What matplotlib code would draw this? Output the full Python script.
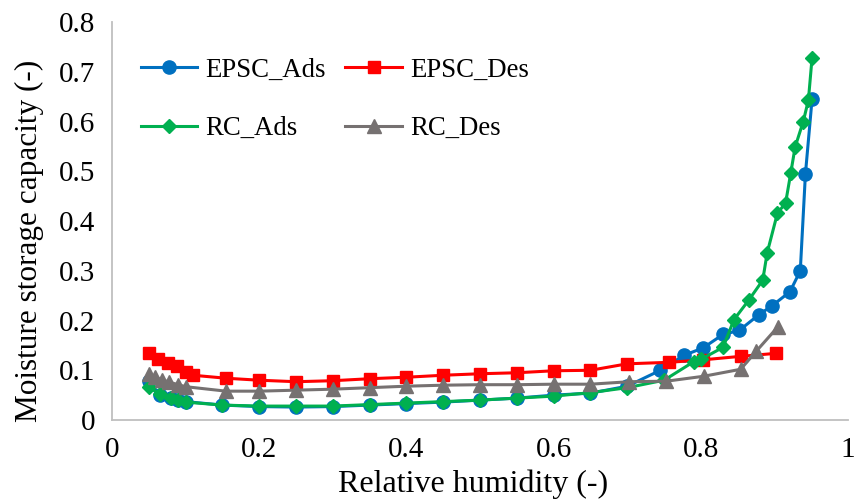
import matplotlib
matplotlib.use("Agg")
import matplotlib.pyplot as plt

# relative humidity (x) and moisture storage capacity (y) per series
epsc_ads_rh = [0.05, 0.065, 0.08, 0.09, 0.10, 0.15, 0.20, 0.25, 0.30, 0.35, 0.40, 0.45,
               0.50, 0.55, 0.60, 0.65, 0.70, 0.745, 0.777, 0.803, 0.83, 0.852, 0.879,
               0.897, 0.921, 0.935, 0.942, 0.951]
epsc_ads = [0.078, 0.050, 0.044, 0.040, 0.037, 0.030, 0.027, 0.026, 0.027, 0.030, 0.033,
            0.036, 0.040, 0.044, 0.050, 0.054, 0.068, 0.100, 0.130, 0.145, 0.172, 0.180,
            0.212, 0.230, 0.258, 0.300, 0.495, 0.645]

epsc_des_rh = [0.05, 0.062, 0.076, 0.089, 0.10, 0.11, 0.155, 0.20, 0.25, 0.30, 0.35, 0.40,
               0.45, 0.50, 0.55, 0.60, 0.65, 0.70, 0.757, 0.803, 0.854, 0.902]
epsc_des = [0.134, 0.122, 0.114, 0.108, 0.097, 0.090, 0.084, 0.080, 0.077, 0.079, 0.083,
            0.086, 0.090, 0.093, 0.095, 0.099, 0.100, 0.113, 0.116, 0.121, 0.128, 0.134]

rc_ads_rh = [0.05, 0.065, 0.08, 0.09, 0.10, 0.15, 0.20, 0.25, 0.30, 0.35, 0.40, 0.45,
             0.50, 0.55, 0.60, 0.65, 0.70, 0.75, 0.79, 0.80, 0.83, 0.845, 0.865, 0.884,
             0.89, 0.904, 0.915, 0.922, 0.928, 0.939, 0.946, 0.951]
rc_ads = [0.066, 0.052, 0.044, 0.040, 0.036, 0.030, 0.028, 0.028, 0.028, 0.031, 0.034,
          0.037, 0.040, 0.044, 0.048, 0.055, 0.065, 0.080, 0.117, 0.122, 0.146, 0.202,
          0.241, 0.281, 0.336, 0.416, 0.436, 0.496, 0.549, 0.600, 0.643, 0.728]

rc_des_rh = [0.05, 0.058, 0.068, 0.078, 0.09, 0.10, 0.155, 0.20, 0.25, 0.30, 0.35, 0.40,
             0.45, 0.50, 0.55, 0.60, 0.65, 0.703, 0.753, 0.804, 0.854, 0.875, 0.905]
rc_des = [0.092, 0.086, 0.081, 0.076, 0.071, 0.067, 0.058, 0.058, 0.060, 0.062, 0.065,
          0.068, 0.070, 0.071, 0.071, 0.072, 0.072, 0.077, 0.078, 0.088, 0.102, 0.138,
          0.188]

x_ticks = [0, 0.2, 0.4, 0.6, 0.8, 1.0]
x_labels = ["0", "0.2", "0.4", "0.6", "0.8", "1"]
y_ticks = [0, 0.1, 0.2, 0.3, 0.4, 0.5, 0.6, 0.7, 0.8]
y_labels = ["0", "0.1", "0.2", "0.3", "0.4", "0.5", "0.6", "0.7", "0.8"]

plt.rcParams["font.family"] = ["Liberation Serif", "DejaVu Serif"]

fig = plt.figure(figsize=(8.58, 5.03), dpi=100)
ax = fig.add_axes([0.1305, 0.165, 0.858, 0.791])

lw = 2.2
l1, = ax.plot(epsc_ads_rh, epsc_ads, "-o", color="#0070C0", lw=lw, ms=9.5, label="EPSC_Ads")
l2, = ax.plot(epsc_des_rh, epsc_des, "-s", color="#FF0000", lw=lw, ms=9, label="EPSC_Des")
l3, = ax.plot(rc_ads_rh, rc_ads, "-D", color="#00B050", lw=lw, ms=7, label="RC_Ads")
l4, = ax.plot(rc_des_rh, rc_des, "-^", color="#767171", lw=lw, ms=10, label="RC_Des")

ax.set_xlim(0, 1)
ax.set_ylim(0, 0.8)
ax.set_xticks(x_ticks, x_labels)
ax.set_yticks(y_ticks, y_labels)
ax.tick_params(length=0, labelsize=21, pad=12)
for side in ("top", "right"):
    ax.spines[side].set_visible(False)
for side in ("left", "bottom"):
    ax.spines[side].set_color("#BFBFBF")
    ax.spines[side].set_linewidth(1.3)

ax.set_xlabel("Relative humidity (-)", fontsize=23)
ax.set_ylabel("Moisture storage capacity (-)", fontsize=22.5)
ax.xaxis.set_label_coords(0.49, -0.125)
ax.yaxis.set_label_coords(-0.092, 0.45)

# ncol fills column-wise, so order entries to get EPSC on row 1, RC on row 2
ax.legend([l1, l3, l2, l4], ["EPSC_Ads", "RC_Ads", "EPSC_Des", "RC_Des"],
          loc="upper left", bbox_to_anchor=(0.006, 0.972), ncol=2, frameon=False,
          fontsize=19.3, handlelength=2.1, handletextpad=0.3, columnspacing=0.75,
          labelspacing=1.25)

fig.savefig("out.png", dpi=100)
